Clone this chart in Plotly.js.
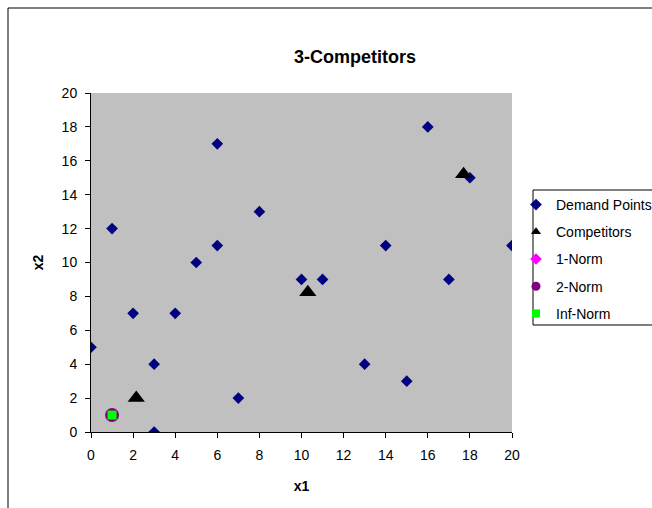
<!DOCTYPE html>
<html><head><meta charset="utf-8">
<script src="https://cdn.plot.ly/plotly-3.0.1.min.js"></script>
<style>body{margin:0;padding:0;background:#fff}#chart{width:652px;height:508px}</style>
</head><body><div id="chart"></div>
<script>
const demandX = [6, 8, 5, 1, 6, 2, 4, 0, 3, 3, 7, 10, 11, 14, 16, 18, 17, 20, 13, 15];
const demandY = [17, 13, 10, 12, 11, 7, 7, 5, 4, 0, 2, 9, 9, 11, 18, 15, 9, 11, 4, 3];
const compX = [2.15, 10.3, 17.7];
const compY = [2.0, 8.25, 15.2];
const norm1X = [1], norm1Y = [1];
const norm2X = [1], norm2Y = [1];
const infX = [1], infY = [1];
const seriesNames = ['Demand Points', 'Competitors', '1-Norm', '2-Norm', 'Inf-Norm'];
const tickVals = [0, 2, 4, 6, 8, 10, 12, 14, 16, 18, 20];

const font = 'Arial, "Liberation Sans", sans-serif';
const styles = [
  {symbol: 'diamond', size: 9, color: '#000080'},
  {symbol: 'triangle-up', size: 15, color: '#000000'},
  {symbol: 'diamond', size: 10, color: '#FF00FF'},
  {symbol: 'circle', size: 14, color: '#800080'},
  {symbol: 'square', size: 9, color: '#00FF00'}
];
const legendSizes = [9, 9, 9, 9, 8];
const dataX = [demandX, compX, norm1X, norm2X, infX];
const dataY = [demandY, compY, norm1Y, norm2Y, infY];
const traces = [];
for (let i = 0; i < 5; i++) {
  traces.push({x: dataX[i], y: dataY[i], name: seriesNames[i], mode: 'markers', type: 'scatter',
               showlegend: false, marker: styles[i]});
}
for (let i = 0; i < 5; i++) {
  traces.push({x: [null], y: [null], name: seriesNames[i], mode: 'markers', type: 'scatter',
               legendgroup: 'g' + i, showlegend: true,
               marker: Object.assign({}, styles[i], {size: legendSizes[i]})});
}
const axisCommon = {
  range: [0, 20], tickvals: tickVals, ticks: 'outside', ticklen: 5, tickcolor: '#000',
  showline: true, linecolor: '#000', linewidth: 1, showgrid: false, zeroline: false,
  ticklabelstandoff: 5,
  tickfont: {family: font, size: 14, color: '#000'}, fixedrange: true
};
const layout = {
  width: 652, height: 508,
  margin: {l: 91, r: 140, t: 93, b: 76, autoexpand: false},
  paper_bgcolor: '#ffffff', plot_bgcolor: '#C0C0C0',
  title: {text: '<b>3-Competitors</b>', x: 355/652, xanchor: 'center', y: 1 - 57/508, yanchor: 'middle',
          font: {family: font, size: 18, color: '#000'}},
  xaxis: Object.assign({}, axisCommon, {title: {text: '<b>x1</b>', standoff: 19, font: {family: font, size: 14, color: '#000'}}}),
  yaxis: Object.assign({}, axisCommon, {title: {text: '<b>x2</b>', standoff: 14, font: {family: font, size: 14, color: '#000'}}}),
  legend: {x: (516-91)/421, xanchor: 'left', y: (432-189)/339, yanchor: 'top',
           bgcolor: 'rgba(0,0,0,0)', borderwidth: 0, tracegroupgap: 6,
           font: {family: font, size: 14, color: '#000'}, itemwidth: 30},
  shapes: [
    {type: 'rect', xref: 'paper', yref: 'paper', x0: (8-91)/421, x1: (700-91)/421,
     y0: (432-560)/339, y1: (432-8)/339, line: {color: '#000', width: 1}, fillcolor: 'rgba(0,0,0,0)', layer: 'below'},
    {type: 'rect', xref: 'paper', yref: 'paper', x0: (533-91)/421, x1: (700-91)/421,
     y0: (432-325)/339, y1: (432-190)/339, line: {color: '#000', width: 1}, fillcolor: '#ffffff', layer: 'below'}
  ],
  showlegend: true
};
Plotly.newPlot('chart', traces, layout, {displayModeBar: false, staticPlot: true});
</script></body></html>
